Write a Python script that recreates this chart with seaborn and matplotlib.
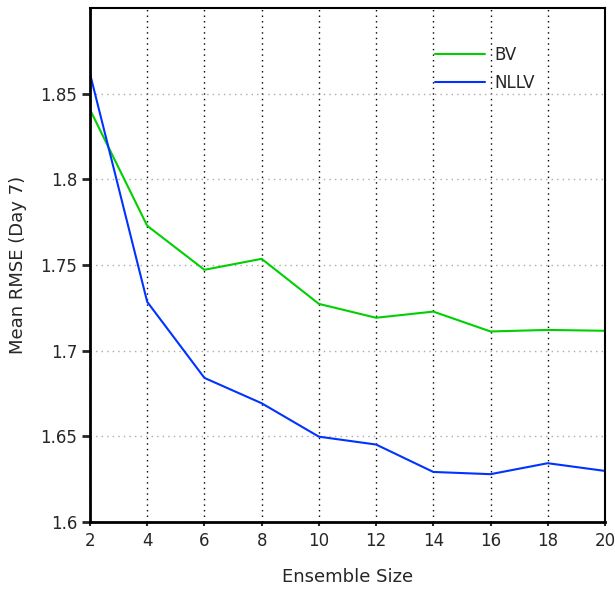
import matplotlib
matplotlib.use("Agg")
from matplotlib import pyplot as plt
import pandas as pd
import seaborn as sns

# Mean day-7 RMSE against ensemble size for two perturbation methods

sizes = [2, 4, 6, 8, 10, 12, 14, 16, 18, 20]
bv = [1.8407, 1.7729, 1.7472, 1.7536, 1.7273, 1.7192, 1.7228, 1.7112, 1.7121, 1.7116]
nllv = [1.8617, 1.7285, 1.6841, 1.6693, 1.6498, 1.6452, 1.6292, 1.6279, 1.6343, 1.6298]
y_ticks = [1.6, 1.65, 1.7, 1.75, 1.8, 1.85]
y_labels = ["1.6", "1.65", "1.7", "1.75", "1.8", "1.85"]

df = pd.DataFrame({
    "size": sizes * 2,
    "rmse": bv + nllv,
    "method": ["BV"] * len(sizes) + ["NLLV"] * len(sizes),
})

sns.set_style("white")
plt.rcParams['font.family'] = ['DejaVu Sans']

fig = plt.figure(figsize=(6.15, 5.9), dpi=100)
ax = fig.add_axes([0.1463, 0.1153, 0.8374, 0.8711])

sns.lineplot(data=df, x="size", y="rmse", hue="method",
             palette={"BV": "#00d000", "NLLV": "#0033ff"},
             linewidth=1.5, ax=ax)

ax.set_xlim(2, 20)
ax.set_ylim(1.6, 1.9)
ax.set_xticks(sizes)
ax.set_xticklabels([str(s) for s in sizes], fontsize=12)
ax.set_yticks(y_ticks)
ax.set_yticklabels(y_labels, fontsize=12)

ax.xaxis.grid(True, linestyle=(0, (1, 3)), color="black", linewidth=1)
ax.yaxis.grid(True, linestyle=(0, (1, 3)), color="#aaaaaa", linewidth=1)
ax.set_axisbelow(True)

for side in ["top", "right"]:
    ax.spines[side].set_color("black")
    ax.spines[side].set_linewidth(1.5)
for side in ["left", "bottom"]:
    ax.spines[side].set_color("black")
    ax.spines[side].set_linewidth(2)

ax.tick_params(axis="y", direction="out", length=6, width=2, left=True, pad=3)
ax.tick_params(axis="x", direction="out", length=3, width=1.5, bottom=True, pad=4)

ax.set_xlabel("Ensemble Size", fontsize=13, labelpad=13)
ax.set_ylabel("Mean RMSE (Day 7)", fontsize=13, labelpad=10)

leg = ax.legend(loc="upper left", bbox_to_anchor=(0.64, 0.955), frameon=False,
                fontsize=12, handlelength=3.0, handletextpad=0.6, labelspacing=0.6)

plt.savefig("out.png", dpi=100)
